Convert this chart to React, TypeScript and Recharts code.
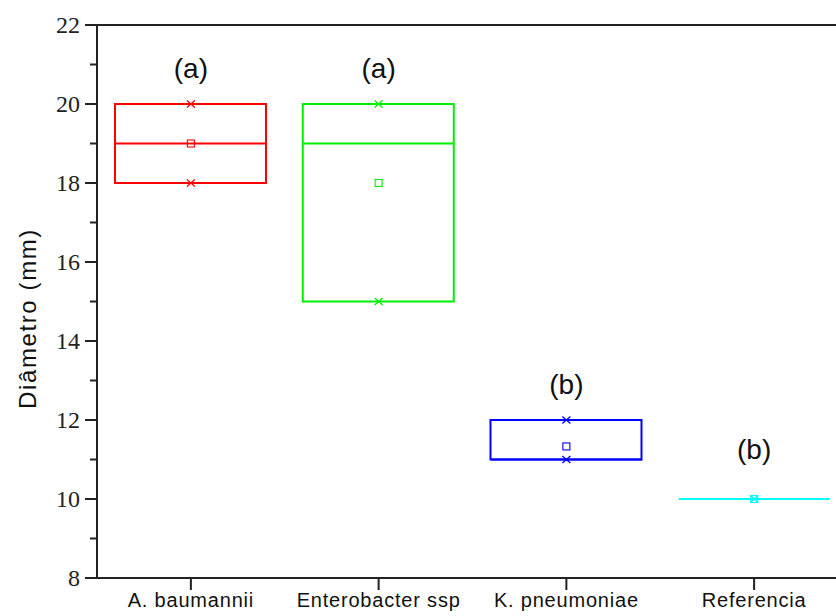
import React from 'react';
import { ComposedChart, Bar, Scatter, XAxis, YAxis, ReferenceLine } from 'recharts';

const categories = ['A. baumannii', 'Enterobacter ssp', 'K. pneumoniae', 'Referencia'];
const boxLow = [18, 15, 11, 10];
const boxHigh = [20, 20, 12, 10];
const medians = [19, 19, 11, 10];
const means = [19, 18, 11.33, 10];
const maxima = [20, 20, 12, 10];
const minima = [18, 15, 11, 10];
const groupLetters = ['(a)', '(a)', '(b)', '(b)'];
const letterY = [20.9, 20.9, 12.9, 11.27];
const yTicks = [8, 9, 10, 11, 12, 13, 14, 15, 16, 17, 18, 19, 20, 21, 22];

const COLORS = ['#ff0000', '#00ee00', '#0000ff', '#00ffff'];
const BOX_W = 151;
const AXIS = '#222';

const rows = categories.map((name, i) => ({
  name,
  low: boxLow[i],
  high: boxHigh[i],
  median: medians[i],
  mean: means[i],
  max: maxima[i],
  min: minima[i],
  letter: groupLetters[i],
  letterY: letterY[i],
}));

const colorOf = (p: any) => COLORS[Math.max(0, categories.indexOf(p?.payload?.name ?? p?.name))];

const BoxShape = (props: any) => {
  const { x, y, width, height } = props;
  if (x == null || y == null) return null;
  const top = Math.min(y, y + height);
  const h = Math.abs(height);
  return (
    <rect x={x} y={top} width={width} height={h} fill="none" stroke={colorOf(props)} strokeWidth={2} />
  );
};

const MedianShape = (p: any) => (
  <line x1={p.cx - BOX_W / 2} x2={p.cx + BOX_W / 2} y1={p.cy} y2={p.cy} stroke={colorOf(p)} strokeWidth={2} />
);

const MeanShape = (p: any) => (
  <rect x={p.cx - 3.5} y={p.cy - 3.5} width={7} height={7} fill="none" stroke={colorOf(p)} strokeWidth={1.1} />
);

const CrossShape = (p: any) => (
  <g stroke={colorOf(p)} strokeWidth={1.3}>
    <line x1={p.cx - 4} y1={p.cy - 3.5} x2={p.cx + 4} y2={p.cy + 3.5} />
    <line x1={p.cx - 4} y1={p.cy + 3.5} x2={p.cx + 4} y2={p.cy - 3.5} />
  </g>
);

const LetterShape = (p: any) => (
  <text
    x={p.cx}
    y={p.cy}
    dy="0.35em"
    textAnchor="middle"
    fontFamily="'Liberation Sans', Arial, sans-serif"
    fontSize={28}
    fill="#111"
  >
    {p.payload.letter}
  </text>
);

const XTick = (props: any) => {
  const { x, y, payload } = props;
  return (
    <g>
      <line x1={x} x2={x} y1={y} y2={y + 12} stroke={AXIS} strokeWidth={2} />
      <text
        x={x}
        y={y + 29}
        textAnchor="middle"
        fontFamily="'Liberation Sans', Arial, sans-serif"
        fontSize={20}
        letterSpacing={0.8}
        fill="#111"
      >
        {payload.value}
      </text>
    </g>
  );
};

const YTick = (props: any) => {
  const { x, y, payload } = props;
  const major = payload.value % 2 === 0;
  return (
    <g>
      <line x1={x - (major ? 12 : 7)} x2={x} y1={y} y2={y} stroke={AXIS} strokeWidth={2} />
      {major && (
        <text
          x={x - 17}
          y={y}
          dy="0.35em"
          textAnchor="end"
          fontFamily="'Liberation Serif', 'Times New Roman', serif"
          fontSize={24}
          fill="#222"
        >
          {payload.value}
        </text>
      )}
    </g>
  );
};

const YLabel = (props: any) => {
  const vb = props.viewBox || { x: 17, y: 25, width: 80, height: 553 };
  const cx = vb.x + 11;
  const cy = vb.y + vb.height / 2 + 17;
  return (
    <text
      x={cx}
      y={cy}
      dy="0.35em"
      transform={`rotate(-90, ${cx}, ${cy})`}
      textAnchor="middle"
      fontFamily="'Liberation Sans', Arial, sans-serif"
      fontSize={24}
      letterSpacing={1.6}
      fill="#111"
    >
      Diâmetro (mm)
    </text>
  );
};

export default function App() {
  return (
    <div
      style={{
        position: 'absolute',
        left: 0,
        top: 0,
        width: 836,
        height: 616,
        overflow: 'hidden',
        background: '#fff',
      }}
    >
      <ComposedChart width={870} height={616} data={rows} margin={{ top: 25, right: 22, bottom: 0, left: 17 }}>
        <XAxis
          dataKey="name"
          type="category"
          allowDuplicatedCategory={false}
          height={38}
          interval={0}
          axisLine={{ stroke: AXIS, strokeWidth: 2 }}
          tickLine={false}
          tickSize={0}
          tickMargin={0}
          tick={XTick}
        />
        <YAxis
          type="number"
          domain={[8, 22]}
          ticks={yTicks}
          interval={0}
          width={80}
          axisLine={{ stroke: AXIS, strokeWidth: 2 }}
          tickLine={false}
          tickSize={0}
          tickMargin={0}
          tick={YTick}
          label={{ content: YLabel }}
        />
        <ReferenceLine y={22} stroke={AXIS} strokeWidth={2} />
        <Bar dataKey={(d: any) => [d.low, d.high]} barSize={BOX_W} shape={BoxShape} isAnimationActive={false} />
        <Scatter dataKey="median" shape={MedianShape} isAnimationActive={false} />
        <Scatter dataKey="max" shape={CrossShape} isAnimationActive={false} />
        <Scatter dataKey="min" shape={CrossShape} isAnimationActive={false} />
        <Scatter dataKey="mean" shape={MeanShape} isAnimationActive={false} />
        <Scatter dataKey="letterY" shape={LetterShape} isAnimationActive={false} />
      </ComposedChart>
    </div>
  );
}
